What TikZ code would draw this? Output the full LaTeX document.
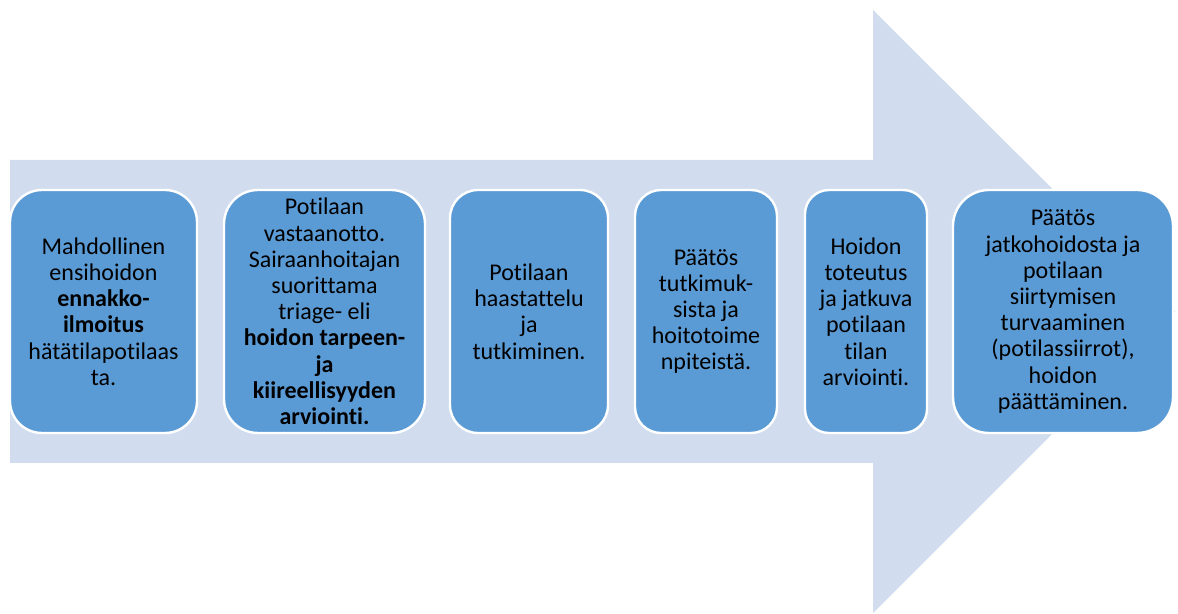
\documentclass[tikz,border=0pt]{standalone}
\usepackage{fontspec}
\setmainfont[Ligatures=NoCommon]{Carlito}
\usepackage{tikz}
\usetikzlibrary{calc}

\definecolor{arrowblue}{RGB}{209,221,238}
\definecolor{boxblue}{RGB}{91,155,213}

\begin{document}
\begin{tikzpicture}[x=0.5pt,y=-0.5pt,
  phase/.style={draw=white,line width=1.2pt,fill=boxblue,text=black,
    align=center,inner sep=1pt,minimum height=121.5pt,
    font=\fontsize{12}{13.1}\selectfont}]
\useasboundingbox (0,0) rectangle (1178,614);

% big arrow behind the boxes
\coordinate (Tail1) at (10,160);
\coordinate (Tail2) at (10,463);
\coordinate (Head1) at (873,10);
\coordinate (Head2) at (873,613);
\coordinate (Tip) at (1175,311);
\fill [arrowblue] (Tail1) -- (873,160) -- (Head1) -- (Tip)
	-- (Head2) -- (873,463) -- (Tail2) -- cycle;

% the phases
\node[phase,minimum width=93.5pt,rounded corners=16pt] (step1) at (103.5,311.5)
	{Mahdollinen\\ensihoidon\\\textbf{ennakko-}\\\textbf{ilmoitus}\\h\"at\"atilapotilaas\\ta.};
\node[phase,minimum width=100.5pt,rounded corners=17pt] (step2) at (324.5,311.5)
	{Potilaan\\vastaanotto.\\Sairaanhoitajan\\suorittama\\triage- eli\\\textbf{hoidon tarpeen-}\\\textbf{ja}\\\textbf{kiireellisyyden}\\\textbf{arviointi.}};
\node[phase,minimum width=79pt,rounded corners=14pt] (step3) at (529,311.5)
	{Potilaan\\haastattelu\\ja\\tutkiminen.};
\node[phase,minimum width=71pt,rounded corners=13pt] (step4) at (706,311.5)
	{P\"a\"at\"os\\tutkimuk-\\sista ja\\hoitotoime\\npiteist\"a.};
\node[phase,minimum width=61pt,rounded corners=12pt] (step5) at (866,311.5)
	{Hoidon\\toteutus\\ja jatkuva\\potilaan\\tilan\\arviointi.};
\node[phase,minimum width=110pt,rounded corners=18pt] (step6) at (1063,311.5)
	{P\"a\"at\"os\\jatkohoidosta ja\\potilaan\\siirtymisen\\turvaaminen\\(potilassiirrot),\\hoidon\\p\"a\"att\"aminen.};
\end{tikzpicture}
\end{document}
